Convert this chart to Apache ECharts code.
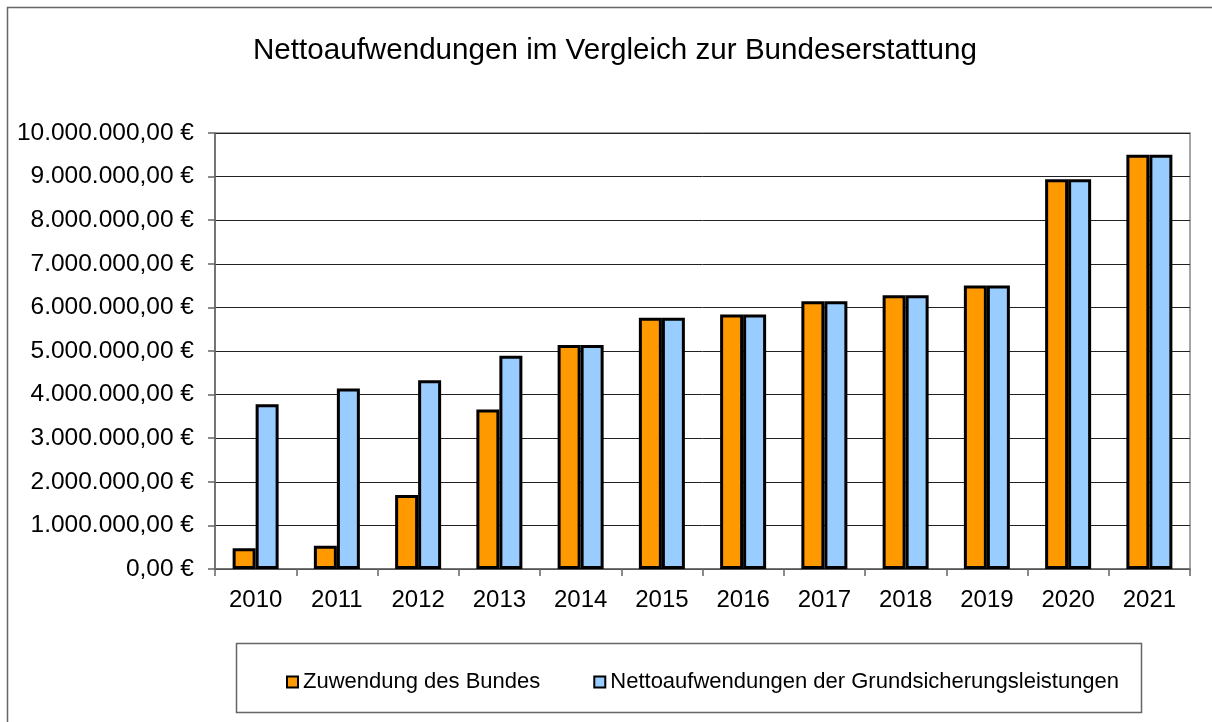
<!DOCTYPE html>
<html>
<head>
<meta charset="utf-8">
<script src="https://cdn.jsdelivr.net/npm/echarts@6/dist/echarts.min.js"></script>
<style>
  html, body { margin: 0; padding: 0; background: #fff; }
  #chart { width: 1212px; height: 722px; }
</style>
</head>
<body>
<div id="chart"></div>
<script>
// Daten (in Euro)
var jahre = ['2010', '2011', '2012', '2013', '2014', '2015', '2016', '2017', '2018', '2019', '2020', '2021'];
var zuwendungBund = [475000, 535000, 1700000, 3660000, 5140000, 5760000, 5840000, 6140000, 6280000, 6500000, 8940000, 9500000];
var nettoaufwendungen = [3780000, 4140000, 4330000, 4890000, 5140000, 5760000, 5840000, 6140000, 6280000, 6500000, 8940000, 9500000];
var serienNamen = ['Zuwendung des Bundes', 'Nettoaufwendungen der Grundsicherungsleistungen'];

// 10000000 -> "10.000.000,00 €"
function euro(v) {
    var s = String(Math.round(v));
    s = s.replace(/\B(?=(\d{3})+(?!\d))/g, '.');
    return s + ',00 €';
}

var chart = echarts.init(document.getElementById('chart'));
var font = 'Liberation Sans, Arial, sans-serif';

var option = {
    animation: false,
    textStyle: { fontFamily: font },
    title: {
        text: 'Nettoaufwendungen im Vergleich zur Bundeserstattung',
        left: 248,
        top: 31,
        textStyle: { fontSize: 29.6, fontWeight: 'normal', color: '#000', fontFamily: font }
    },
    graphic: [
        // Rahmen um das ganze Diagramm
        { type: 'rect', shape: { x: 7.5, y: 7.5, width: 1300, height: 800 },
          style: { fill: null, stroke: '#666', lineWidth: 1.5 }, z: -1 },
        // Rahmen der Legende
        { type: 'rect', shape: { x: 236.5, y: 643.5, width: 905, height: 69 },
          style: { fill: '#fff', stroke: '#666', lineWidth: 1.5 }, z: -1 }
    ],
    legend: {
        data: serienNamen,
        left: 281,
        top: 666,
        itemWidth: 11,
        itemHeight: 11,
        itemGap: 53,
        icon: 'rect',
        itemStyle: { borderColor: '#000', borderWidth: 2 },
        textStyle: { fontSize: 22, color: '#000', fontFamily: font }
    },
    grid: {
        left: 215,
        right: 22,
        top: 133,
        bottom: 153,
        show: true,
        borderColor: '#888',
        borderWidth: 1.5
    },
    xAxis: {
        type: 'category',
        data: jahre,
        axisLine: { lineStyle: { color: '#666', width: 1.5 } },
        axisTick: { show: true, length: 7, alignWithLabel: false, lineStyle: { color: '#666', width: 1.5 } },
        axisLabel: { fontSize: 24, color: '#000', margin: 19, fontFamily: font }
    },
    yAxis: {
        type: 'value',
        min: 0,
        max: 10000000,
        interval: 1000000,
        axisLine: { show: true, lineStyle: { color: '#666', width: 1.5 } },
        axisTick: { show: true, length: 7, lineStyle: { color: '#666', width: 1.5 } },
        axisLabel: { fontSize: 24.5, color: '#000', margin: 21, formatter: euro, fontFamily: font },
        splitLine: { lineStyle: { color: '#222', width: 1 } }
    },
    series: [
        {
            name: serienNamen[0],
            type: 'bar',
            data: zuwendungBund,
            barWidth: 23,
            barGap: '0%',
            itemStyle: { color: '#ff9900', borderColor: '#000', borderWidth: 3 }
        },
        {
            name: serienNamen[1],
            type: 'bar',
            data: nettoaufwendungen,
            barWidth: 23,
            barGap: '0%',
            itemStyle: { color: '#99ccff', borderColor: '#000', borderWidth: 3 }
        }
    ]
};

chart.setOption(option);
</script>
</body>
</html>
